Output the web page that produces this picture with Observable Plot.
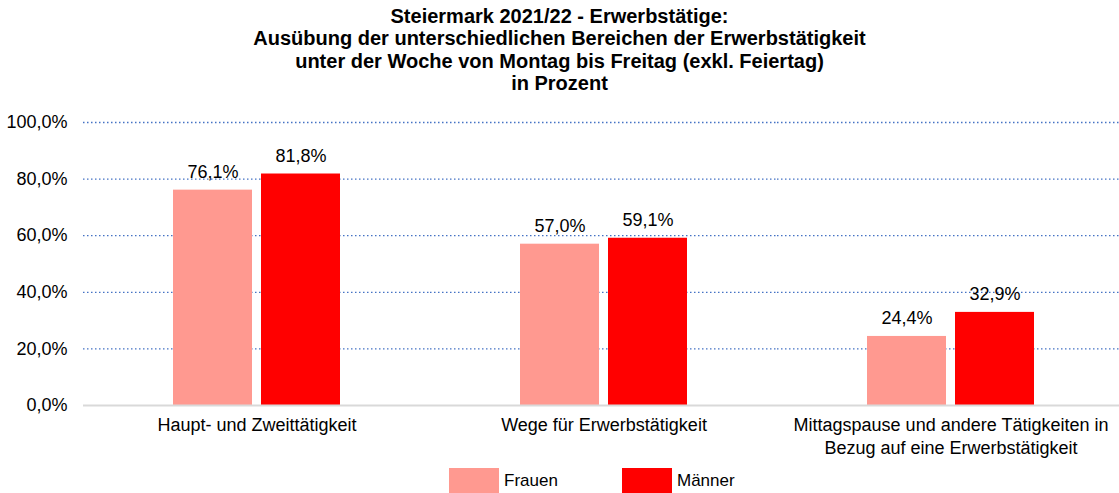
<!DOCTYPE html>
<html>
<head>
<meta charset="utf-8">
<script src="https://cdn.jsdelivr.net/npm/d3@7"></script>
<script src="https://cdn.jsdelivr.net/npm/@observablehq/plot@0.6"></script>
<style>
  html, body { margin: 0; padding: 0; background: #fff; }
  body { width: 1119px; height: 493px; overflow: hidden; font-family: "Liberation Sans", Arial, sans-serif; }
  #title { height: 96px; box-sizing: border-box; padding-top: 5px; text-align: center; font-weight: bold; font-size: 20px; line-height: 22.3px; color: #000; }
  #legend { position: relative; height: 31px; font-size: 17px; }
  .item { position: absolute; top: 6px; display: flex; align-items: center; }
  .sw { width: 50px; height: 25px; margin-right: 5px; }
</style>
</head>
<body>
<div id="title">Steiermark 2021/22 - Erwerbstätige:<br>Ausübung der unterschiedlichen Bereichen der Erwerbstätigkeit<br>unter der Woche von Montag bis Freitag (exkl. Feiertag)<br>in Prozent</div>
<div id="chart"></div>
<div id="legend"></div>
<script>
const categories = [
  "Haupt- und Zweittätigkeit",
  "Wege für Erwerbstätigkeit",
  "Mittagspause und andere Tätigkeiten in\nBezug auf eine Erwerbstätigkeit"
];
const seriesNames = ["Frauen", "Männer"];
const frauen = [76.1, 57.0, 24.4];
const maenner = [81.8, 59.1, 32.9];
const yTicks = [0, 20, 40, 60, 80, 100];
const colors = ["#FF9990", "#FF0000"];

const data = [];
categories.forEach((c, i) => {
  data.push({category: c, series: seriesNames[0], value: frauen[i]});
  data.push({category: c, series: seriesNames[1], value: maenner[i]});
});
const fmt = d => d.toFixed(1).replace(".", ",") + "%";

const chart = Plot.plot({
  width: 1119,
  height: 366,
  marginLeft: 83,
  marginRight: -5,
  marginTop: 26,
  marginBottom: 57,
  style: {fontFamily: "'Liberation Sans', Arial, sans-serif", fontSize: "18px", color: "#000", background: "#fff"},
  fx: {domain: categories, paddingInner: 0, paddingOuter: 0, label: null},
  x: {domain: seriesNames, paddingInner: 0.1, paddingOuter: 1, axis: null},
  y: {domain: [0, 100], ticks: yTicks, label: null},
  color: {domain: seriesNames, range: colors},
  marks: [
    Plot.gridY(yTicks.filter(d => d > 0), {stroke: "#4472C4", strokeOpacity: 1, strokeWidth: 1.3, strokeDasharray: "1.5,2.5"}),
    Plot.axisY({ticks: yTicks, tickSize: 0, tickPadding: 16, tickFormat: fmt, fontSize: 18, label: null}),
    Plot.axisFx({anchor: "bottom", tickSize: 0, tickPadding: 9, fontSize: 18, label: null, lineHeight: 1.28}),
    Plot.barY(data, {fx: "category", x: "series", y: "value", fill: "series"}),
    Plot.ruleY([0], {stroke: "#D9D9D9", strokeWidth: 2}),
    Plot.text(data, {fx: "category", x: "series", y: "value", text: d => fmt(d.value), lineAnchor: "bottom", dy: -12, fontSize: 18, fill: "#000"})
  ]
});
document.getElementById("chart").appendChild(chart);

const legend = document.getElementById("legend");
const lefts = [449, 622];
seriesNames.forEach((s, i) => {
  const it = document.createElement("div");
  it.className = "item";
  it.style.left = lefts[i] + "px";
  const sw = document.createElement("div");
  sw.className = "sw";
  sw.style.background = colors[i];
  const t = document.createElement("span");
  t.textContent = s;
  it.appendChild(sw);
  it.appendChild(t);
  legend.appendChild(it);
});
</script>
</body>
</html>
